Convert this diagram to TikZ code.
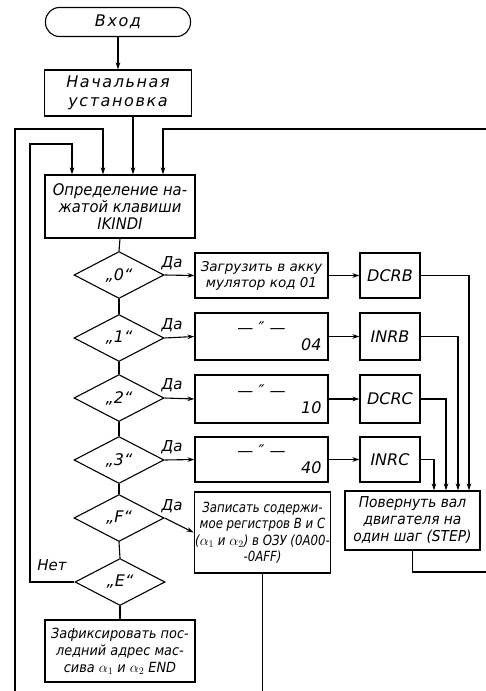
\documentclass[tikz,border=0pt]{standalone}
\usepackage{fontspec}
\setmainfont{DejaVu Sans}
\newfontfamily\fb{DejaVu Sans}[FakeStretch=0.92]
\newfontfamily\fc{DejaVu Sans}[FakeStretch=0.84]
\newfontfamily\fsp{DejaVu Sans}[LetterSpace=10]
\usetikzlibrary{shapes.geometric,arrows.meta}
\begin{document}
\begin{tikzpicture}[x=1pt,y=-1pt,
  every node/.style={font=\itshape\fontsize{16}{17}\selectfont},
  box/.style={draw,line width=1.1pt,inner sep=1pt,align=center},
  dia/.style={draw,line width=1.1pt,diamond,inner sep=0pt,minimum width=90pt,minimum height=47pt,aspect=1.9},
  ln/.style={line width=1.1pt},
  arr/.style={line width=1.1pt,-{Stealth[length=7pt,width=4.5pt]}},
  spaced/.style={font=\fsp\itshape\fontsize{16}{19}\selectfont},
  lbl/.style={font=\itshape\fontsize{15}{17}\selectfont}]
\useasboundingbox[fill=white] (0,0) rectangle (486,691);
\node[box,spaced,rounded corners=14pt,minimum width=145pt,minimum height=29pt] (entry) at (118,22) {Вход};
\node[box,spaced,minimum width=147pt,minimum height=46pt] (init) at (118,93) {Начальная\\установка};
\node[box,font=\fb\itshape\fontsize{16}{17}\selectfont,minimum width=150pt,minimum height=63pt] (kind) at (120,206.5) {Определение на-\\жатой клавиши\\IKINDI};
\node[dia] (d0) at (119,275) {„0“};
\node[dia] (d1) at (119,338) {„1“};
\node[dia] (d2) at (119,398) {„2“};
\node[dia] (d3) at (119,460) {„3“};
\node[dia] (dF) at (119,518) {„F“};
\node[dia] (dE) at (120,582) {„E“};
\node[box,font=\itshape\fontsize{13.5}{16}\selectfont,minimum width=133pt,minimum height=45pt] (b0) at (261.5,275.5) {Загрузить в акку\\мулятор код 01};
\node[box,minimum width=133pt,minimum height=47pt,align=right] (b1) at (261.5,336.5) {\makebox[120pt][c]{— ″ —}\\04};
\node[box,minimum width=133pt,minimum height=48pt,align=right] (b2) at (261.5,399) {\makebox[120pt][c]{— ″ —}\\10};
\node[box,minimum width=133pt,minimum height=45pt,align=right] (b3) at (261.5,459.5) {\makebox[120pt][c]{— ″ —}\\40};
\node[box,font=\fc\itshape\fontsize{14}{16.5}\selectfont,minimum width=135pt,minimum height=81pt] (bF) at (262.5,532.5) {Записать содержи-\\мое регистров В и С\\($\alpha_1$ и $\alpha_2$) в ОЗУ (0A00-\\-0AFF)};
\node[box,minimum width=60pt,minimum height=45pt] (r0) at (390,275.5) {DCRB};
\node[box,minimum width=60pt,minimum height=47pt] (r1) at (390,336.5) {INRB};
\node[box,minimum width=60pt,minimum height=48pt] (r2) at (390,399) {DCRC};
\node[box,minimum width=60pt,minimum height=45pt] (r3) at (390,459.5) {INRC};
\node[box,font=\fb\itshape\fontsize{15}{17}\selectfont,minimum width=135pt,minimum height=59pt] (step) at (412.5,520.5) {Повернуть вал\\двигателя на\\один шаг (STEP)};
\node[box,font=\fb\itshape\fontsize{14}{17}\selectfont,minimum width=150pt,minimum height=62pt] (endb) at (120,651) {Зафиксировать пос-\\ледний адрес мас-\\сива $\alpha_1$ и $\alpha_2$ END};
\node[lbl] (yes0) at (172,263) {Да};
\node[lbl] (yes1) at (172,325) {Да};
\node[lbl] (yes2) at (172,385) {Да};
\node[lbl] (yes3) at (172,447) {Да};
\node[lbl] (yesF) at (172,506) {Да};
\node[lbl] (no) at (52,565) {Нет};
\coordinate (outTL) at (15,129);
\coordinate (outBL) at (15,700);
\coordinate (inTL) at (30,144);
\coordinate (outR) at (492,572);
\coordinate (outTR) at (492,129);
% main flow
\draw[arr] (entry) -- (init);
\draw[arr] ([xshift=15pt]init.south) -- ([xshift=15pt]init.south |- kind.north);
\draw[ln] (kind.south) -- (d0.north);
\draw[ln] (d0.south) -- (d1.north);
\draw[ln] (d1.south) -- (d2.north);
\draw[ln] (d2.south) -- (d3.north);
\draw[ln] (d3.south) -- (dF.north);
\draw[ln] (dF.south) -- (dE.north);
\draw[ln] (dE.south) -- (endb.north);
% yes branches
\draw[arr] (d0.east) -- (b0.west);
\draw[arr] (d1.east) -- (b1.west);
\draw[arr] (d2.east) -- (b2.west);
\draw[arr] (d3.east) -- (b3.west);
\draw[arr] (dF.east) -- (bF.west);
\draw[arr] (b0.east) -- (r0.west);
\draw[arr] (b1.east) -- (r1.west);
\draw[arr] (b2.east) -- (r2.west);
\draw[arr] (b3.east) -- (r3.west);
\draw[arr] (r0.east) -| ([xshift=56.5pt]step.north);
\draw[arr] (r1.east) -| ([xshift=45.5pt]step.north);
\draw[arr] (r2.east) -| ([xshift=33.5pt]step.north);
\draw[arr] (r3.east) -| ([xshift=21.5pt]step.north);
% loops
\draw[arr] (step.south) |- (outR) -- (outTR) -| ([xshift=43pt]kind.north);
\draw[arr] (bF.south) |- (outBL) -- (outTL) -| ([xshift=-17pt]kind.north);
\draw[arr] (dE.west) -| (inTL) -| ([xshift=-48pt]kind.north);
\end{tikzpicture}
\end{document}
